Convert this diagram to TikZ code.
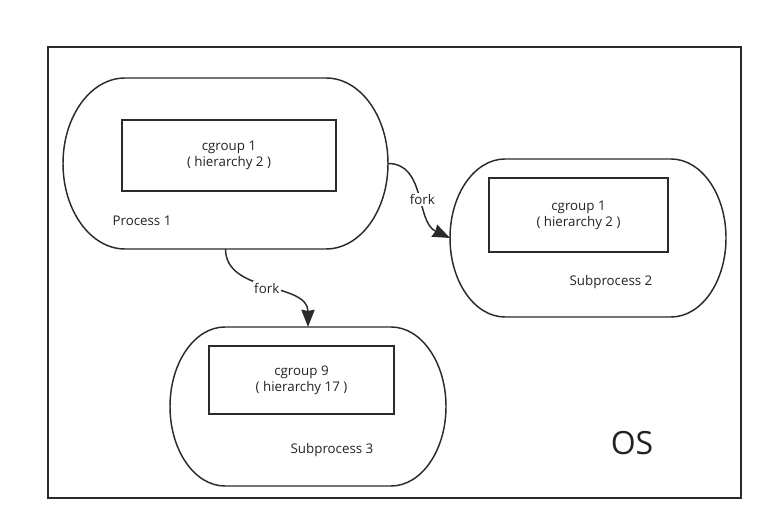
\documentclass[tikz,border=0pt]{standalone}
\usepackage{fontspec}
\setmainfont{Open Sans}
\usetikzlibrary{calc,arrows.meta}
\definecolor{linec}{HTML}{2B2B2B}
\definecolor{textc}{HTML}{222222}
\tikzset{
  holder/.style={rectangle, draw=none, inner sep=0pt, outer sep=0pt},
  outl/.style={draw=linec, line width=1.1pt},
  cbox/.style={rectangle, draw=linec, line width=1.1pt, inner sep=0pt, outer sep=0pt,
    align=center, text=textc, font=\fontsize{10}{12}\selectfont},
  txt/.style={text=textc, font=\fontsize{10}{12}\selectfont, inner sep=0pt},
  conn/.style={draw=linec, line width=1.1pt, -{Stealth[length=13pt,width=10pt,inset=1pt,fill=linec]}},
  lbl/.style={fill=white, text=textc, font=\fontsize{10}{12}\selectfont, inner sep=1pt},
}
\newcommand\termpath[3]{%
  \draw[outl] ($(#1.north west)+(#2,0)$) -- ($(#1.north east)+(-#2,0)$)
    arc[start angle=90,end angle=-90,x radius=#2,y radius=#3]
    -- ($(#1.south west)+(#2,0)$)
    arc[start angle=270,end angle=90,x radius=#2,y radius=#3] -- cycle;}
\begin{document}
\begin{tikzpicture}[x=0.75pt,y=0.75pt]
\useasboundingbox (0,0) rectangle (773,531);
% OS frame
\node[holder, draw=linec, line width=1.1pt, minimum width=519.75pt, minimum height=338.25pt] (os) at (394.5,258.5) {};
\node[text=textc, font=\fontsize{24}{28}\selectfont, inner sep=0pt] (ostxt) at (632,88) {OS};
% Process 1
\node[holder, minimum width=243.75pt, minimum height=128.25pt] (p1) at (225.5,367.5) {};
\termpath{p1}{46.5pt}{64.125pt}
\node[cbox, minimum width=160.5pt, minimum height=53.25pt] (c1) at (229,375.5) {cgroup 1\\( hierarchy 2 )};
\node[txt] (p1lbl) at (142,310) {Process 1};
% Subprocess 2
\node[holder, minimum width=207pt, minimum height=118.5pt] (sp2) at (588,293) {};
\termpath{sp2}{41.25pt}{59.25pt}
\node[cbox, minimum width=134.25pt, minimum height=55.5pt] (c2) at (578.5,316) {cgroup 1\\( hierarchy 2 )};
\node[txt] (sp2lbl) at (611,249) {Subprocess 2};
% Subprocess 3
\node[holder, minimum width=207pt, minimum height=119.25pt] (sp3) at (308,124.5) {};
\termpath{sp3}{41.25pt}{59.625pt}
\node[cbox, minimum width=138.75pt, minimum height=51pt] (c3) at (301.5,151) {cgroup 9\\( hierarchy 17 )};
\node[txt] (sp3lbl) at (332,81) {Subprocess 3};
% connectors
\draw[conn] (p1.east) to[out=0,in=155] node[lbl,pos=0.55]{fork} (sp2.west);
\draw[conn] (p1.south) to[out=-90,in=90] node[lbl]{fork} (sp3.north);
\end{tikzpicture}
\end{document}
